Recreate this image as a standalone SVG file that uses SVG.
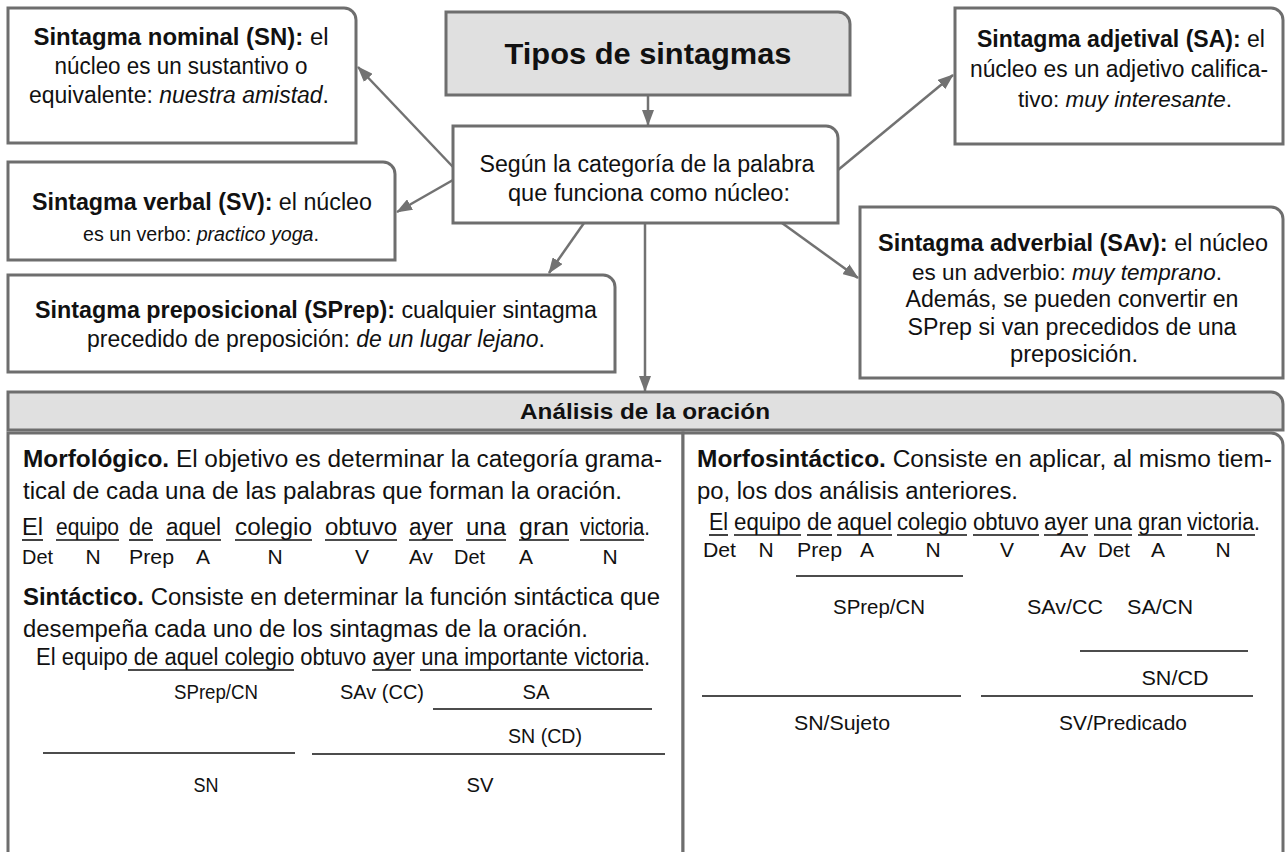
<svg xmlns="http://www.w3.org/2000/svg" width="1288" height="852" viewBox="0 0 1288 852">
<style>
.box{fill:#fff;stroke:#6e6e6e;stroke-width:3}
.gbox{fill:#e0e0e0;stroke:#6e6e6e;stroke-width:3}
.t{font-family:"Liberation Sans",Arial,sans-serif;font-size:23px;fill:#111}
.s{font-family:"Liberation Sans",Arial,sans-serif;font-size:21px;fill:#111}
.c{text-anchor:middle}
.b{font-weight:bold}
.i{font-style:italic}
.con{stroke:#727272;stroke-width:2.5;fill:none;marker-end:url(#ah)}
.ul{stroke:#111;stroke-width:1.6}
.rl{stroke:#111;stroke-width:1.3}
</style>
<defs>
<marker id="ah" markerUnits="userSpaceOnUse" markerWidth="16" markerHeight="12" refX="15" refY="6" orient="auto">
<path d="M0,0 L16,6 L0,12 Z" fill="#727272"/>
</marker>
</defs>

<g id="connectors">
<line class="con" x1="648" y1="95" x2="648" y2="125"/>
<line class="con" x1="453" y1="167" x2="358" y2="67"/>
<line class="con" x1="453" y1="180" x2="397" y2="212"/>
<line class="con" x1="584" y1="223" x2="549" y2="273"/>
<line class="con" x1="645" y1="223" x2="645" y2="391"/>
<line class="con" x1="838" y1="170" x2="953" y2="75"/>
<line class="con" x1="782" y1="223" x2="858" y2="278"/>
</g>

<g id="n-title">
<path class="gbox" d="M446,12 H838 A12,12 0 0 1 850,24 V95 H446 Z"/>
<text class="t c b" x="648" y="64" style="font-size:29px" textLength="287" lengthAdjust="spacingAndGlyphs">Tipos de sintagmas</text>
</g>

<g id="n-center">
<path class="box" d="M453,126 H826 A12,12 0 0 1 838,138 V223 H453 Z"/>
<text class="t c" x="647" y="172" textLength="335" lengthAdjust="spacingAndGlyphs">Según la categoría de la palabra</text>
<text class="t c" x="649" y="201" textLength="282" lengthAdjust="spacingAndGlyphs">que funciona como núcleo:</text>
</g>

<g id="n-sn">
<path class="box" d="M8,8 H344 A12,12 0 0 1 356,20 V143 H8 Z"/>
<text class="t c" x="181" y="45" textLength="295" lengthAdjust="spacingAndGlyphs"><tspan class="b">Sintagma nominal (SN):</tspan> el</text>
<text class="t c" x="181" y="74" textLength="253" lengthAdjust="spacingAndGlyphs">núcleo es un sustantivo o</text>
<text class="t c" x="179" y="103" textLength="300" lengthAdjust="spacingAndGlyphs">equivalente: <tspan class="i">nuestra amistad</tspan>.</text>
</g>

<g id="n-sa">
<path class="box" d="M955,8 H1271 A12,12 0 0 1 1283,20 V144 H955 Z"/>
<text class="t c" x="1121" y="47" textLength="288" lengthAdjust="spacingAndGlyphs"><tspan class="b">Sintagma adjetival (SA):</tspan> el</text>
<text class="t c" x="1119" y="77" textLength="298" lengthAdjust="spacingAndGlyphs">núcleo es un adjetivo califica-</text>
<text class="t c" x="1125" y="107" style="font-size:21.5px" textLength="214" lengthAdjust="spacingAndGlyphs">tivo: <tspan class="i">muy interesante</tspan>.</text>
</g>

<g id="n-sv">
<path class="box" d="M8,162 H383 A12,12 0 0 1 395,174 V260 H8 Z"/>
<text class="t c" x="202" y="210" textLength="340" lengthAdjust="spacingAndGlyphs"><tspan class="b">Sintagma verbal (SV):</tspan> el núcleo</text>
<text class="t c" x="201" y="241" style="font-size:19.7px" textLength="236" lengthAdjust="spacingAndGlyphs">es un verbo: <tspan class="i">practico yoga</tspan>.</text>
</g>

<g id="n-sprep">
<path class="box" d="M8,275 H603 A12,12 0 0 1 615,287 V372 H8 Z"/>
<text class="t c" x="316" y="318" textLength="562" lengthAdjust="spacingAndGlyphs"><tspan class="b">Sintagma preposicional (SPrep):</tspan> cualquier sintagma</text>
<text class="t c" x="316" y="347" textLength="458" lengthAdjust="spacingAndGlyphs">precedido de preposición: <tspan class="i">de un lugar lejano</tspan>.</text>
</g>

<g id="n-sav">
<path class="box" d="M860,207 H1271 A12,12 0 0 1 1283,219 V378 H860 Z"/>
<text class="t c" x="1073" y="251" textLength="390" lengthAdjust="spacingAndGlyphs"><tspan class="b">Sintagma adverbial (SAv):</tspan> el núcleo</text>
<text class="t c" x="1067" y="280" style="font-size:22.3px" textLength="310" lengthAdjust="spacingAndGlyphs">es un adverbio: <tspan class="i">muy temprano</tspan>.</text>
<text class="t c" x="1072" y="307" textLength="333" lengthAdjust="spacingAndGlyphs">Además, se pueden convertir en</text>
<text class="t c" x="1072" y="335" textLength="329" lengthAdjust="spacingAndGlyphs">SPrep si van precedidos de una</text>
<text class="t c" x="1074" y="362" textLength="128" lengthAdjust="spacingAndGlyphs">preposición.</text>
</g>

<g id="n-analisis">
<path class="gbox" d="M8,392 H1271 A12,12 0 0 1 1283,404 V430 H8 Z"/>
<text class="t c b" x="645" y="419" style="font-size:22px" textLength="250" lengthAdjust="spacingAndGlyphs">Análisis de la oración</text>
</g>

<g id="n-left">
<path class="box" d="M8,433 H683 V860 H8 Z"/>
<text class="t" x="23" y="467" textLength="639" lengthAdjust="spacingAndGlyphs"><tspan class="b">Morfológico.</tspan> El objetivo es determinar la categoría grama-</text>
<text class="t" x="23" y="499" textLength="599" lengthAdjust="spacingAndGlyphs">tical de cada una de las palabras que forman la oración.</text>
<g>
<text class="t" x="22" y="535" textLength="21" lengthAdjust="spacingAndGlyphs">El</text>
<text class="t" x="56" y="535" textLength="63" lengthAdjust="spacingAndGlyphs">equipo</text>
<text class="t" x="129" y="535" textLength="24" lengthAdjust="spacingAndGlyphs">de</text>
<text class="t" x="166" y="535" textLength="55" lengthAdjust="spacingAndGlyphs">aquel</text>
<text class="t" x="235" y="535" textLength="77" lengthAdjust="spacingAndGlyphs">colegio</text>
<text class="t" x="325" y="535" textLength="72" lengthAdjust="spacingAndGlyphs">obtuvo</text>
<text class="t" x="409" y="535" textLength="44" lengthAdjust="spacingAndGlyphs">ayer</text>
<text class="t" x="466" y="535" textLength="40" lengthAdjust="spacingAndGlyphs">una</text>
<text class="t" x="519" y="535" textLength="50" lengthAdjust="spacingAndGlyphs">gran</text>
<text class="t" x="580" y="535" textLength="70" lengthAdjust="spacingAndGlyphs">victoria.</text>
<line class="ul" x1="22" y1="540" x2="43" y2="540"/>
<line class="ul" x1="56" y1="540" x2="119" y2="540"/>
<line class="ul" x1="129" y1="540" x2="153" y2="540"/>
<line class="ul" x1="166" y1="540" x2="221" y2="540"/>
<line class="ul" x1="235" y1="540" x2="312" y2="540"/>
<line class="ul" x1="325" y1="540" x2="397" y2="540"/>
<line class="ul" x1="409" y1="540" x2="453" y2="540"/>
<line class="ul" x1="466" y1="540" x2="506" y2="540"/>
<line class="ul" x1="519" y1="540" x2="569" y2="540"/>
<line class="ul" x1="580" y1="540" x2="644" y2="540"/>
</g>
<g>
<text class="s" x="22" y="564" textLength="31" lengthAdjust="spacingAndGlyphs">Det</text>
<text class="s c" x="93" y="564">N</text>
<text class="s" x="129" y="564" textLength="45" lengthAdjust="spacingAndGlyphs">Prep</text>
<text class="s c" x="203" y="564">A</text>
<text class="s c" x="275" y="564">N</text>
<text class="s c" x="362" y="564">V</text>
<text class="s" x="409" y="564" textLength="24" lengthAdjust="spacingAndGlyphs">Av</text>
<text class="s" x="454" y="564" textLength="31" lengthAdjust="spacingAndGlyphs">Det</text>
<text class="s c" x="526" y="564">A</text>
<text class="s c" x="610" y="564">N</text>
</g>
<text class="t" x="23" y="605" textLength="637" lengthAdjust="spacingAndGlyphs"><tspan class="b">Sintáctico.</tspan> Consiste en determinar la función sintáctica que</text>
<text class="t" x="23" y="637" textLength="565" lengthAdjust="spacingAndGlyphs">desempeña cada uno de los sintagmas de la oración.</text>
<text class="t" x="36" y="665" textLength="614" lengthAdjust="spacingAndGlyphs">El equipo de aquel colegio obtuvo ayer una importante victoria.</text>
<line class="ul" x1="128" y1="670" x2="294" y2="670"/>
<line class="ul" x1="372" y1="670" x2="411" y2="670"/>
<line class="ul" x1="420" y1="670" x2="643" y2="670"/>
<text class="s c" x="216" y="699" textLength="84" lengthAdjust="spacingAndGlyphs">SPrep/CN</text>
<text class="s c" x="382" y="699" textLength="84" lengthAdjust="spacingAndGlyphs">SAv (CC)</text>
<text class="s c" x="536" y="699" textLength="27" lengthAdjust="spacingAndGlyphs">SA</text>
<line class="rl" x1="433" y1="709" x2="652" y2="709"/>
<text class="s c" x="545" y="743" textLength="74" lengthAdjust="spacingAndGlyphs">SN (CD)</text>
<line class="rl" x1="43" y1="753" x2="295" y2="753"/>
<line class="rl" x1="312" y1="754" x2="665" y2="754"/>
<text class="s c" x="206" y="792" textLength="25" lengthAdjust="spacingAndGlyphs">SN</text>
<text class="s c" x="480" y="792" textLength="27" lengthAdjust="spacingAndGlyphs">SV</text>
</g>

<g id="n-right">
<path class="box" d="M683,433 H1271 A12,12 0 0 1 1283,445 V860 H683 Z"/>
<text class="t" x="697" y="467" textLength="575" lengthAdjust="spacingAndGlyphs"><tspan class="b">Morfosintáctico.</tspan> Consiste en aplicar, al mismo tiem-</text>
<text class="t" x="697" y="499" textLength="321" lengthAdjust="spacingAndGlyphs">po, los dos análisis anteriores.</text>
<g>
<text class="t" x="709" y="530" textLength="19" lengthAdjust="spacingAndGlyphs">El</text>
<text class="t" x="734" y="530" textLength="67" lengthAdjust="spacingAndGlyphs">equipo</text>
<text class="t" x="807" y="530" textLength="25" lengthAdjust="spacingAndGlyphs">de</text>
<text class="t" x="837" y="530" textLength="55" lengthAdjust="spacingAndGlyphs">aquel</text>
<text class="t" x="897" y="530" textLength="70" lengthAdjust="spacingAndGlyphs">colegio</text>
<text class="t" x="973" y="530" textLength="66" lengthAdjust="spacingAndGlyphs">obtuvo</text>
<text class="t" x="1044" y="530" textLength="44" lengthAdjust="spacingAndGlyphs">ayer</text>
<text class="t" x="1094" y="530" textLength="38" lengthAdjust="spacingAndGlyphs">una</text>
<text class="t" x="1138" y="530" textLength="44" lengthAdjust="spacingAndGlyphs">gran</text>
<text class="t" x="1187" y="530" textLength="73" lengthAdjust="spacingAndGlyphs">victoria.</text>
<line class="ul" x1="709" y1="535" x2="728" y2="535"/>
<line class="ul" x1="734" y1="535" x2="801" y2="535"/>
<line class="ul" x1="807" y1="535" x2="832" y2="535"/>
<line class="ul" x1="837" y1="535" x2="892" y2="535"/>
<line class="ul" x1="897" y1="535" x2="967" y2="535"/>
<line class="ul" x1="973" y1="535" x2="1039" y2="535"/>
<line class="ul" x1="1044" y1="535" x2="1088" y2="535"/>
<line class="ul" x1="1094" y1="535" x2="1132" y2="535"/>
<line class="ul" x1="1138" y1="535" x2="1182" y2="535"/>
<line class="ul" x1="1187" y1="535" x2="1255" y2="535"/>
</g>
<g>
<text class="s" x="703" y="557" textLength="33" lengthAdjust="spacingAndGlyphs">Det</text>
<text class="s c" x="766" y="557">N</text>
<text class="s" x="797" y="557" textLength="45" lengthAdjust="spacingAndGlyphs">Prep</text>
<text class="s c" x="867" y="557">A</text>
<text class="s c" x="933" y="557">N</text>
<text class="s c" x="1007" y="557">V</text>
<text class="s" x="1060" y="557" textLength="26" lengthAdjust="spacingAndGlyphs">Av</text>
<text class="s" x="1098" y="557" textLength="32" lengthAdjust="spacingAndGlyphs">Det</text>
<text class="s c" x="1158" y="557">A</text>
<text class="s c" x="1223" y="557">N</text>
</g>
<line class="rl" x1="796" y1="576" x2="963" y2="576"/>
<text class="s c" x="879" y="614" textLength="92" lengthAdjust="spacingAndGlyphs">SPrep/CN</text>
<text class="s c" x="1065" y="614" textLength="76" lengthAdjust="spacingAndGlyphs">SAv/CC</text>
<text class="s c" x="1160" y="614" textLength="66" lengthAdjust="spacingAndGlyphs">SA/CN</text>
<line class="rl" x1="1080" y1="651" x2="1248" y2="651"/>
<text class="s c" x="1175" y="685" textLength="67" lengthAdjust="spacingAndGlyphs">SN/CD</text>
<line class="rl" x1="702" y1="696" x2="961" y2="696"/>
<line class="rl" x1="981" y1="696" x2="1253" y2="696"/>
<text class="s c" x="842" y="730" textLength="96" lengthAdjust="spacingAndGlyphs">SN/Sujeto</text>
<text class="s c" x="1123" y="730" textLength="128" lengthAdjust="spacingAndGlyphs">SV/Predicado</text>
</g>
</svg>
